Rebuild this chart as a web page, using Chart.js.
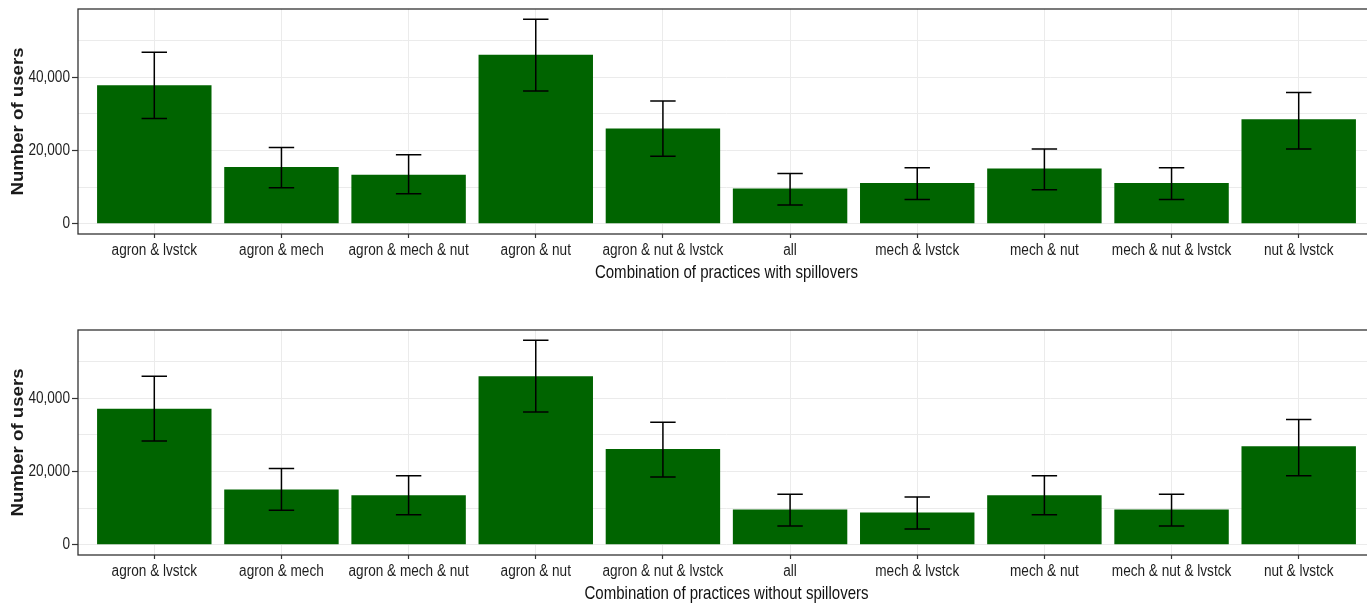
<!DOCTYPE html>
<html>
<head>
<meta charset="utf-8">
<script src="https://cdn.jsdelivr.net/npm/chart.js@4"></script>
<style>
  html, body { margin: 0; padding: 0; background: #fff; overflow: hidden; width: 1367px; height: 603px; }
  .panel { position: absolute; left: 0; }
  #withSpill { top: 0; }
  #withoutSpill { top: 321px; }
</style>
</head>
<body>
<canvas id="withSpill" class="panel" width="1400" height="300"></canvas>
<canvas id="withoutSpill" class="panel" width="1400" height="300"></canvas>
<script>
// Practice combinations shown on the x axis
const categories = [
  'agron & lvstck', 'agron & mech', 'agron & mech & nut', 'agron & nut',
  'agron & nut & lvstck', 'all', 'mech & lvstck', 'mech & nut',
  'mech & nut & lvstck', 'nut & lvstck'
];

// Number of users, with spillovers: estimate and interval bounds
const usersWith     = [37800, 15500, 13400, 46100, 26000, 9600, 11100, 15100, 11100, 28500];
const usersWithLow  = [28700,  9800,  8200, 36200, 18400, 5100,  6600,  9300,  6600, 20400];
const usersWithHigh = [46800, 20800, 18800, 55800, 33500, 13700, 15300, 20400, 15300, 35800];

// Number of users, without spillovers: estimate and interval bounds
const usersWithout     = [37100, 15100, 13500, 46000, 26100, 9600, 8800, 13500, 9600, 26900];
const usersWithoutLow  = [28300,  9400,  8200, 36200, 18500, 5100, 4300,  8200, 5100, 18800];
const usersWithoutHigh = [46000, 20800, 18800, 55800, 33400, 13800, 13000, 18800, 13800, 34200];

// Y axis breaks: grid at every 10,000, labels at every 20,000
const yGridTicks = [0, 10000, 20000, 30000, 40000, 50000];
const yLabelTicks = [0, 20000, 40000];

const sans = '"Liberation Sans", Arial, sans-serif';

// Text is set in a condensed style: horizontal labels are narrowed,
// the bold rotated axis title is drawn elongated along its baseline.
const condensedText = {
  id: 'condensedText',
  beforeDraw(chart) {
    const ctx = chart.ctx;
    if (ctx.__condensed) return;
    ctx.__condensed = true;
    const fill = ctx.fillText;
    ctx.fillText = function (text, x, y) {
      const sx = this.font.includes('bold') ? 1.165 : 0.85;
      this.save();
      this.translate(x, y);
      this.scale(sx, 1);
      fill.call(this, text, 0, 0);
      this.restore();
    };
  }
};

// Vertical error bars with end caps, placed through the chart scales
const errorBars = {
  id: 'errorBars',
  afterDatasetsDraw(chart, args, opts) {
    const { ctx, scales: { x, y } } = chart;
    ctx.save();
    ctx.strokeStyle = '#000';
    ctx.lineWidth = 1.5;
    opts.low.forEach((lo, i) => {
      const px = x.getPixelForValue(i);
      const half = x.getPixelForValue(i + 0.1) - px;
      const y1 = y.getPixelForValue(lo);
      const y2 = y.getPixelForValue(opts.high[i]);
      ctx.beginPath();
      ctx.moveTo(px, y1); ctx.lineTo(px, y2);
      ctx.moveTo(px - half, y1); ctx.lineTo(px + half, y1);
      ctx.moveTo(px - half, y2); ctx.lineTo(px + half, y2);
      ctx.stroke();
    });
    ctx.restore();
  }
};

// Dark frame around the plotting area
const panelBorder = {
  id: 'panelBorder',
  afterDraw(chart) {
    const { ctx, chartArea: a } = chart;
    ctx.save();
    ctx.strokeStyle = '#333333';
    ctx.lineWidth = 1.3;
    ctx.strokeRect(a.left, a.top, a.right - a.left, a.bottom - a.top);
    ctx.restore();
  }
};

function makePanel(id, values, low, high, xTitle) {
  const top = Math.max(...high);
  const yMax = top * 1.05;
  const yMin = -top * 0.05;

  return new Chart(document.getElementById(id), {
    type: 'bar',
    data: {
      datasets: [{
        data: categories.map((c, i) => ({ x: i, y: values[i] })),
        backgroundColor: '#006400',
        borderWidth: 0,
        categoryPercentage: 1,
        barPercentage: 0.9
      }]
    },
    options: {
      responsive: false,
      animation: false,
      devicePixelRatio: 1,
      layout: { padding: { top: 9, left: 0, right: 25, bottom: 0 } },
      plugins: {
        legend: { display: false },
        tooltip: { enabled: false },
        errorBars: { low, high }
      },
      scales: {
        x: {
          type: 'linear',
          min: -0.6,
          max: 9.6,
          offset: false,
          bounds: 'data',
          afterBuildTicks: s => { s.ticks = categories.map((c, i) => ({ value: i })); },
          afterFit: s => { s.height = 66; s.paddingLeft = 0; s.paddingRight = 0; },
          ticks: {
            autoSkip: false, maxRotation: 0, minRotation: 0, padding: 3,
            color: '#1e1e1e',
            font: { family: sans, size: 16 },
            callback: v => categories[Math.round(v)]
          },
          grid: {
            offset: false, color: '#ebebeb', lineWidth: 1,
            tickColor: '#333333', tickLength: 4, tickWidth: 1.2
          },
          border: { display: false },
          title: {
            display: true, text: xTitle, color: '#111111',
            font: { family: sans, size: 17.7 },
            padding: { top: 0, bottom: 16 }
          }
        },
        y: {
          min: yMin,
          max: yMax,
          bounds: 'data',
          afterBuildTicks: s => { s.ticks = yGridTicks.map(v => ({ value: v })); },
          afterFit: s => { s.width = 78; s.paddingTop = 0; s.paddingBottom = 0; },
          ticks: {
            padding: 2,
            color: '#1e1e1e',
            font: { family: sans, size: 16 },
            callback: v => yLabelTicks.includes(v) ? v.toLocaleString('en-US') : ''
          },
          grid: {
            color: '#ebebeb', lineWidth: 1,
            tickColor: c => (c.tick && yLabelTicks.includes(c.tick.value)) ? '#333333' : 'rgba(0,0,0,0)',
            tickLength: 6, tickWidth: 1.2
          },
          border: { display: false },
          title: {
            display: true, text: 'Number of users', color: '#1a1a1a',
            font: { family: sans, size: 16, weight: 'bold' },
            padding: { top: 8.5, bottom: 0 }
          }
        }
      }
    },
    plugins: [condensedText, errorBars, panelBorder]
  });
}

makePanel('withSpill', usersWith, usersWithLow, usersWithHigh,
  'Combination of practices with spillovers');
makePanel('withoutSpill', usersWithout, usersWithoutLow, usersWithoutHigh,
  'Combination of practices without spillovers');
</script>
</body>
</html>
